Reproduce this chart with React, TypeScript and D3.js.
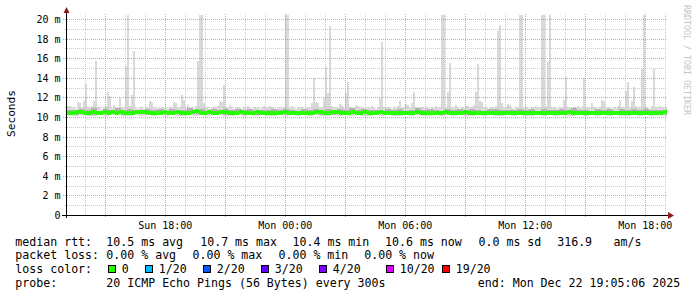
import React from 'react';
import * as d3 from 'd3';

// ---- data (milliseconds) ----
const endTime = Date.UTC(2025, 11, 22, 19, 5, 6);
const spanSeconds = 30 * 3600;

// top of the smoke (highest ping) per 6-minute step
const maxRtt = [
  11.2, 11.2, 11.0, 11.1, 10.9, 11.6, 11.5, 11.0, 11.7, 13.4, 11.1, 11.0, 11.2, 11.7, 15.8, 11.1, 11.0, 10.9, 11.1, 11.2,
  12.6, 12.2, 11.0, 11.3, 11.0, 10.9, 12.0, 11.1, 11.0, 15.3, 20.5, 11.2, 12.3, 16.8, 11.0, 10.9, 11.1, 11.0, 10.9, 11.1,
  11.0, 11.7, 11.6, 11.0, 11.1, 10.9, 11.0, 11.1, 11.0, 10.9, 11.0, 11.1, 11.0, 11.6, 11.5, 11.0, 11.1, 12.3, 11.8, 11.0,
  11.3, 11.0, 11.1, 10.9, 11.2, 15.8, 20.5, 20.5, 11.5, 11.0, 11.1, 10.9, 11.0, 11.1, 11.0, 11.2, 11.7, 11.6, 13.3, 11.1,
  11.0, 11.3, 11.1, 10.9, 11.0, 11.1, 11.0, 10.9, 11.1, 11.0, 11.2, 11.0, 10.9, 11.1, 11.0, 11.1, 10.9, 11.0, 11.2, 11.0,
  11.1, 11.2, 11.1, 11.0, 10.9, 11.0, 11.1, 11.0, 11.1, 20.5, 20.5, 11.0, 11.2, 11.0, 10.9, 11.1, 11.0, 11.1, 10.9, 11.0,
  11.1, 11.0, 11.5, 14.0, 11.6, 11.5, 11.0, 11.1, 12.0, 15.2, 12.5, 19.3, 11.2, 11.0, 11.1, 11.0, 11.4, 11.3, 11.0, 12.5,
  13.6, 11.1, 11.0, 10.9, 11.3, 11.2, 11.0, 11.1, 11.0, 10.9, 11.1, 11.0, 11.2, 11.0, 10.9, 11.1, 12.0, 17.7, 11.1, 11.0,
  11.1, 11.0, 10.9, 11.1, 11.0, 11.2, 11.7, 11.0, 11.1, 11.4, 11.3, 11.0, 11.5, 12.6, 11.1, 11.0, 10.9, 11.1, 11.0, 11.1,
  11.0, 10.9, 11.1, 11.0, 11.2, 11.0, 11.1, 20.5, 20.5, 11.0, 12.6, 15.6, 11.1, 11.0, 11.3, 11.0, 10.9, 11.1, 11.0, 11.2,
  11.2, 11.0, 11.1, 11.3, 12.6, 15.5, 11.7, 11.6, 11.0, 11.1, 10.9, 11.0, 11.1, 11.0, 11.2, 18.8, 19.4, 11.5, 11.0, 11.1,
  11.4, 11.3, 11.0, 10.9, 11.1, 11.0, 20.5, 20.5, 11.0, 11.1, 11.0, 10.9, 11.1, 11.0, 11.2, 11.0, 11.1, 20.5, 20.5, 11.1,
  15.7, 20.5, 11.0, 11.1, 11.0, 10.9, 11.1, 11.0, 11.8, 14.1, 11.1, 11.0, 10.9, 11.1, 11.0, 11.2, 11.0, 11.1, 14.0, 11.0,
  11.1, 11.0, 11.5, 11.1, 11.0, 10.9, 11.1, 11.8, 11.7, 11.0, 11.1, 11.0, 10.9, 11.1, 11.0, 11.2, 11.8, 11.1, 11.0, 12.7,
  13.6, 11.1, 11.7, 13.1, 11.2, 11.0, 11.1, 15.0, 20.5, 11.1, 11.0, 10.9, 11.2, 15.0, 11.1, 11.0, 11.2, 11.1, 11.0, 11.1,
];

// median rtt per 12-minute step
const medianRtt = [
  10.50, 10.48, 10.52, 10.55, 10.49, 10.51, 10.58, 10.50, 10.47, 10.53, 10.50, 10.52, 10.49, 10.55, 10.51,
  10.48, 10.50, 10.53, 10.60, 10.52, 10.49, 10.50, 10.47, 10.51, 10.54, 10.50, 10.48, 10.52, 10.50, 10.49,
  10.51, 10.55, 10.62, 10.50, 10.48, 10.53, 10.50, 10.49, 10.52, 10.57, 10.51, 10.48, 10.50, 10.53, 10.47,
  10.49, 10.50, 10.52, 10.48, 10.46, 10.50, 10.51, 10.47, 10.49, 10.52, 10.50, 10.48, 10.51, 10.49, 10.46,
  10.48, 10.50, 10.53, 10.55, 10.51, 10.49, 10.52, 10.56, 10.50, 10.48, 10.51, 10.53, 10.50, 10.49, 10.52,
  10.50, 10.47, 10.49, 10.52, 10.48, 10.50, 10.46, 10.49, 10.51, 10.47, 10.50, 10.48, 10.52, 10.49, 10.47,
  10.49, 10.51, 10.47, 10.50, 10.53, 10.48, 10.50, 10.46, 10.49, 10.52, 10.48, 10.45, 10.47, 10.50, 10.48,
  10.47, 10.50, 10.48, 10.46, 10.49, 10.51, 10.47, 10.45, 10.48, 10.50, 10.46, 10.49, 10.44, 10.47, 10.50,
  10.48, 10.46, 10.49, 10.47, 10.50, 10.52, 10.48, 10.46, 10.49, 10.47, 10.45, 10.48, 10.50, 10.47, 10.49,
  10.46, 10.49, 10.47, 10.45, 10.48, 10.50, 10.47, 10.49, 10.46, 10.48, 10.47, 10.50, 10.48, 10.49, 10.52,
];

// lowest ping per 18-minute step
const minRtt = [
  10.22, 10.18, 10.25, 10.20, 10.15, 10.24, 10.19, 10.21, 10.26, 10.17,
  10.20, 10.23, 10.16, 10.22, 10.19, 10.25, 10.18, 10.21, 10.14, 10.20,
  10.24, 10.19, 10.22, 10.17, 10.21, 10.26, 10.20, 10.18, 10.23, 10.16,
  10.21, 10.19, 10.24, 10.20, 10.15, 10.22, 10.18, 10.25, 10.19, 10.21,
  10.17, 10.23, 10.20, 10.16, 10.22, 10.19, 10.24, 10.18, 10.21, 10.15,
  10.20, 10.23, 10.17, 10.22, 10.19, 10.14, 10.21, 10.18, 10.24, 10.20,
  10.16, 10.22, 10.19, 10.25, 10.18, 10.21, 10.13, 10.20, 10.23, 10.17,
  10.22, 10.19, 10.15, 10.21, 10.18, 10.24, 10.20, 10.16, 10.22, 10.19,
  10.25, 10.18, 10.21, 10.14, 10.20, 10.23, 10.17, 10.22, 10.19, 10.24,
  10.18, 10.21, 10.16, 10.20, 10.23, 10.19, 10.22, 10.17, 10.21, 10.20,
];

// inner (denser) smoke band per 18-minute step
const q1Rtt = [
  10.34, 10.30, 10.37, 10.32, 10.28, 10.35, 10.31, 10.36, 10.33, 10.29,
  10.35, 10.32, 10.38, 10.30, 10.34, 10.31, 10.36, 10.29, 10.33, 10.37,
  10.31, 10.35, 10.30, 10.34, 10.38, 10.32, 10.29, 10.36, 10.33, 10.31,
  10.36, 10.30, 10.34, 10.32, 10.37, 10.29, 10.35, 10.33, 10.31, 10.38,
  10.32, 10.36, 10.30, 10.34, 10.28, 10.35, 10.33, 10.37, 10.31, 10.34,
  10.30, 10.36, 10.33, 10.29, 10.35, 10.32, 10.38, 10.30, 10.34, 10.31,
  10.37, 10.33, 10.29, 10.35, 10.32, 10.36, 10.30, 10.34, 10.31, 10.38,
  10.33, 10.29, 10.36, 10.32, 10.35, 10.30, 10.37, 10.33, 10.31, 10.34,
  10.36, 10.30, 10.34, 10.32, 10.29, 10.35, 10.33, 10.37, 10.31, 10.36,
  10.32, 10.35, 10.30, 10.34, 10.38, 10.31, 10.33, 10.36, 10.29, 10.34,
];
const q3Rtt = [
  10.80, 10.72, 10.88, 10.75, 10.92, 10.70, 10.84, 10.78, 10.95, 10.73,
  10.86, 10.79, 10.71, 10.90, 10.76, 10.83, 10.68, 10.87, 10.74, 10.81,
  10.93, 10.77, 10.85, 10.70, 10.89, 10.75, 10.82, 10.72, 10.91, 10.78,
  10.84, 10.69, 10.80, 10.76, 10.88, 10.73, 10.86, 10.79, 10.71, 10.83,
  10.77, 10.90, 10.74, 10.85, 10.70, 10.82, 10.78, 10.94, 10.72, 10.87,
  10.75, 10.81, 10.69, 10.88, 10.76, 10.84, 10.71, 10.80, 10.92, 10.74,
  10.86, 10.78, 10.70, 10.83, 10.77, 10.89, 10.73, 10.85, 10.79, 10.68,
  10.82, 10.91, 10.75, 10.80, 10.72, 10.87, 10.76, 10.84, 10.70, 10.88,
  10.78, 10.73, 10.86, 10.81, 10.95, 10.74, 10.79, 10.71, 10.85, 10.77,
  10.83, 10.69, 10.90, 10.76, 10.82, 10.72, 10.87, 10.78, 10.80, 10.74,
];

const yTicks = [0, 2, 4, 6, 8, 10, 12, 14, 16, 18, 20];
const yMinorTicks = [1, 3, 5, 7, 9, 11, 13, 15, 17, 19];

const lossLabels = ['0', '1/20', '2/20', '3/20', '4/20', '10/20', '19/20'];
const lossColors = ['#26ff00', '#00b8ff', '#0059ff', '#5e00ff', '#7e00ff', '#dd00ff', '#ff0000'];
const lossBoxX = [108, 145, 203, 261, 319, 386, 442];

const rttLine = [
  ['median rtt:', 15.3], ['10.5 ms avg', 106.3], ['10.7 ms max', 200.2], ['10.4 ms min', 292.5],
  ['10.6 ms now', 385], ['0.0 ms sd', 478.5], ['316.9', 557.2], ['am/s', 613.5],
];
const lossLine = [
  ['packet loss:', 15.3], ['0.00 % avg', 106.3], ['0.00 % max', 192.5], ['0.00 % min', 278.5], ['0.00 % now', 364.2],
];
const probeLine = [
  ['probe:', 15.3], ['20 ICMP Echo Pings (56 Bytes) every 300s', 106.3], ['end: Mon Dec 22 19:05:06 2025', 477.8],
];

const MONO = '"DejaVu Sans Mono", "Liberation Mono", monospace';

export default function App() {
  const W = 697, H = 297;
  const start = new Date(endTime - spanSeconds * 1000);
  const end = new Date(endTime);
  const x = d3.scaleUtc().domain([start, end]).range([67, 667]);
  const y = d3.scaleLinear().domain([0, 20.5]).range([215.5, 14.6]).clamp(true);
  const px = (v: number) => Math.round(y(v) - 0.5) + 0.5;

  const stepX = (arr: number[], i: number) => {
    const dt = spanSeconds / arr.length;
    const t0 = new Date(start.getTime() + i * dt * 1000);
    const t1 = new Date(start.getTime() + (i + 1) * dt * 1000);
    return [x(t0), x(t1)];
  };
  const at = (arr: number[], i: number, n: number) => arr[Math.min(arr.length - 1, Math.floor((i * arr.length) / n))];

  const hours = d3.utcHour.range(start, end);
  const fmt = d3.utcFormat('%a %H:%M');

  const gridMinor = 'rgba(191,191,191,0.8)';
  const gridMajor = 'rgba(230,128,128,0.8)';
  const arrow = '#8c1c1c';

  return (
    <svg width={W} height={H} style={{ position: 'absolute', left: 0, top: 0, background: '#fff' }} fontFamily={MONO}>
      <rect x={0} y={0} width={W} height={H} fill="#fff" />
      {/* outer smoke */}
      <g shapeRendering="crispEdges">
        {maxRtt.map((v, i) => {
          const [x0, x1] = stepX(maxRtt, i);
          const lo = at(minRtt, i, maxRtt.length);
          return <rect key={'o' + i} x={x0} y={y(v)} width={x1 - x0} height={y(lo) - y(v)} fill="#d9d9d9" />;
        })}
        {q3Rtt.map((v, i) => {
          const [x0, x1] = stepX(q3Rtt, i);
          return <rect key={'q' + i} x={x0} y={y(v)} width={x1 - x0} height={y(q1Rtt[i]) - y(v)} fill="#b2b2b2" />;
        })}
      </g>
      {/* grid */}
      <g strokeDasharray="1,1" strokeWidth={1}>
        {yMinorTicks.map((v) => (
          <line key={'hm' + v} x1={65} x2={667} y1={px(v)} y2={px(v)} stroke={gridMinor} />
        ))}
        {hours.filter((h) => h.getUTCHours() % 3 !== 0).map((h) => {
          const xx = Math.round(x(h) - 0.5) + 0.5;
          return <line key={'vm' + h.getTime()} x1={xx} x2={xx} y1={14} y2={215} stroke={gridMinor} />;
        })}
        {yTicks.filter((v) => v > 0).map((v) => (
          <line key={'hM' + v} x1={63} x2={667} y1={px(v)} y2={px(v)} stroke={gridMajor} />
        ))}
        {hours.filter((h) => h.getUTCHours() % 3 === 0).map((h) => {
          const xx = Math.round(x(h) - 0.5) + 0.5;
          return <line key={'vM' + h.getTime()} x1={xx} x2={xx} y1={14} y2={218} stroke={gridMajor} />;
        })}
      </g>
      {/* median */}
      <g shapeRendering="crispEdges">
        {medianRtt.map((v, i) => {
          const [x0, x1] = stepX(medianRtt, i);
          return <rect key={'m' + i} x={x0} y={y(v) - 2} width={x1 - x0} height={4} fill={lossColors[0]} />;
        })}
      </g>
      {/* axes */}
      <line x1={62} x2={668} y1={215.5} y2={215.5} stroke="#000" />
      <line x1={66.5} x2={66.5} y1={12} y2={218} stroke="#000" />
      <path d="M668,212 L674,215.5 L668,219 Z" fill={arrow} />
      <path d="M63.5,13 L66.5,7 L69.5,13 Z" fill={arrow} />
      {/* y labels */}
      <g fontSize={10} textAnchor="end" fill="#000">
        {yTicks.map((v) => (
          <text key={'yl' + v} x={60.5} y={px(v) + 3.6}>
            {v === 0 ? '0' : `${v} m`}
          </text>
        ))}
      </g>
      {/* x labels */}
      <g fontSize={10} textAnchor="middle" fill="#000">
        {hours.filter((h) => h.getUTCHours() % 6 === 0).map((h) => (
          <text key={'xl' + h.getTime()} x={x(h)} y={228.5}>
            {fmt(h)}
          </text>
        ))}
      </g>
      {/* axis title */}
      <text transform="translate(14.5,113.5) rotate(-90)" textAnchor="middle" fontSize={11.2} fill="#000">
        Seconds
      </text>
      {/* watermark */}
      <text transform="translate(683.5,5) rotate(90)" fontSize={8.3} fill="#c4c4c4">
        RRDTOOL / TOBI OETIKER
      </text>
      {/* legend */}
      <g fontSize={11.6} fill="#000" style={{ whiteSpace: 'pre' }}>
        {rttLine.map(([t, xx]) => (
          <text key={'r' + t} x={xx as number} y={245.9}>{t}</text>
        ))}
        {lossLine.map(([t, xx]) => (
          <text key={'l' + t} x={xx as number} y={259.3}>{t}</text>
        ))}
        <text x={15.3} y={273.1}>loss color:</text>
        {lossLabels.map((lab, i) => (
          <g key={'lc' + lab}>
            <rect x={lossBoxX[i] + 0.5} y={265.5} width={7} height={7} fill={lossColors[i]} stroke="#000" shapeRendering="crispEdges" />
            <text x={lossBoxX[i] + 13.7} y={273.1}>{lab}</text>
          </g>
        ))}
        {probeLine.map(([t, xx]) => (
          <text key={'p' + t} x={xx as number} y={286.8}>{t}</text>
        ))}
      </g>
    </svg>
  );
}
